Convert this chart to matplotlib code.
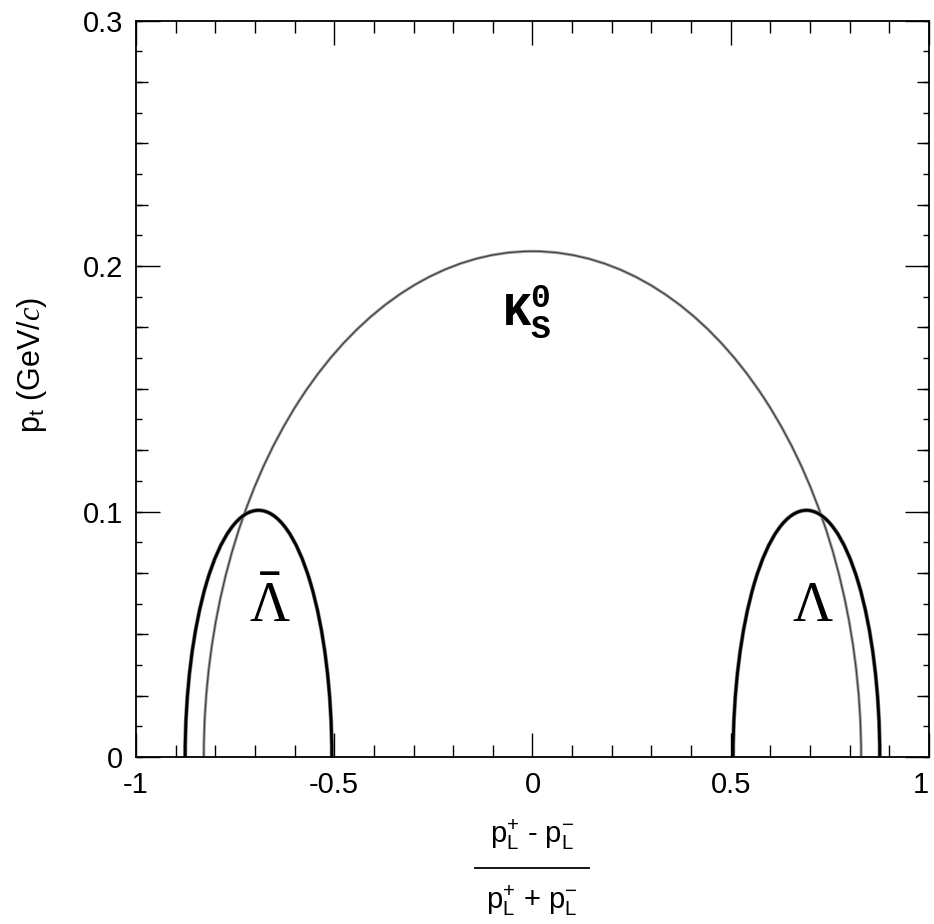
import matplotlib
matplotlib.use("Agg")
import matplotlib.pyplot as plt
from matplotlib.patches import Ellipse
from matplotlib.lines import Line2D
from matplotlib.ticker import MultipleLocator, NullLocator, FormatStrFormatter

# Armenteros-Podolanski ellipses
particles = ["K0S", "Lambda", "AntiLambda"]
alpha_centre = [0.0, 0.691, -0.691]
alpha_halfwidth = [0.829, 0.185, 0.185]
pt_max = [0.206, 0.1005, 0.1005]

labels = [r"$\mathbf{K^0_S}$", r"$\Lambda$", r"$\Lambda$"]
label_alpha = [-0.015, 0.707, -0.662]
label_pt = [0.181, 0.061, 0.061]
label_size = [34, 40, 40]

x_ticks = [-1, -0.5, 0, 0.5, 1]
x_ticklabels = ["-1", "-0.5", "0", "0.5", "1"]

plt.rcParams["font.family"] = ["Liberation Sans", "DejaVu Sans"]
plt.rcParams["axes.unicode_minus"] = False
plt.rcParams["mathtext.fontset"] = "custom"
plt.rcParams["mathtext.rm"] = "Liberation Serif"
plt.rcParams["mathtext.it"] = "Liberation Serif:italic"
plt.rcParams["mathtext.bf"] = "Liberation Mono:bold"
plt.rcParams["mathtext.sf"] = "Liberation Sans"

fig = plt.figure(figsize=(9.34, 9.24), dpi=100)
ax = fig.add_axes([0.1456, 0.1807, 0.8490, 0.7971])

for name, a0, r, p in zip(particles, alpha_centre, alpha_halfwidth, pt_max):
	if name == "K0S":
		under, top, lw_u, lw_t = "0.65", "0.25", 2.2, 0.9
	else:
		under, top, lw_u, lw_t = "0.5", "black", 3.0, 2.0
	ax.add_patch(Ellipse((a0, 0), 2 * r, 2 * p, fill=False, edgecolor=under, lw=lw_u))
	ax.add_patch(Ellipse((a0, 0), 2 * r, 2 * p, fill=False, edgecolor=top, lw=lw_t))

for txt, x, y, s in zip(labels, label_alpha, label_pt, label_size):
	ax.text(x, y, txt, fontsize=s, ha="center", va="center")
# bar over the anti-lambda
ax.text(label_alpha[2], 0.0745, "\u2013", fontsize=28, fontweight="bold",
	ha="center", va="center")

# third level of y ticks
for side in ("left", "right"):
	sec = ax.secondary_yaxis(side)
	sec.yaxis.set_major_locator(NullLocator())
	sec.yaxis.set_minor_locator(MultipleLocator(0.0125))
	sec.tick_params(which="minor", direction="in", length=4, width=1)
	sec.spines[side].set_visible(False)

ax.set_xlim(-1, 1)
ax.set_ylim(0, 0.3)

ax.set_xticks(x_ticks, labels=x_ticklabels)
ax.xaxis.set_minor_locator(MultipleLocator(0.1))
ax.yaxis.set_major_locator(MultipleLocator(0.1))
ax.yaxis.set_minor_locator(MultipleLocator(0.025))
ax.yaxis.set_major_formatter(FormatStrFormatter("%g"))
ax.tick_params(which="both", direction="in", top=True, right=True, width=1)
ax.tick_params(which="major", length=17, labelsize=21)
ax.tick_params(which="minor", length=8.5)
ax.tick_params(axis="x", pad=10)
ax.tick_params(axis="y", pad=9)
for sp in ax.spines.values():
	sp.set_linewidth(1.3)
ax.get_xticklabels()[-1].set_horizontalalignment("right")

ax.set_ylabel(r"p$_\mathsf{t}$ (GeV/$\mathit{c}$)", fontsize=22)
ax.yaxis.set_label_coords(-0.131, 0.532)
ax.yaxis.label.set_va("center")

# x axis title as a built fraction
fig.text(0.5696, 0.0963, r"p$_\mathsf{L}^\mathsf{+}$ - p$_\mathsf{L}^\mathsf{-}$",
	fontsize=21, ha="center", va="center")
fig.text(0.5696, 0.0255, r"p$_\mathsf{L}^\mathsf{+}$ + p$_\mathsf{L}^\mathsf{-}$",
	fontsize=21, ha="center", va="center")
fig.add_artist(Line2D([0.5086, 0.6306], [0.0606, 0.0606], color="black", lw=1.3))

fig.savefig("out.png", dpi=100)
